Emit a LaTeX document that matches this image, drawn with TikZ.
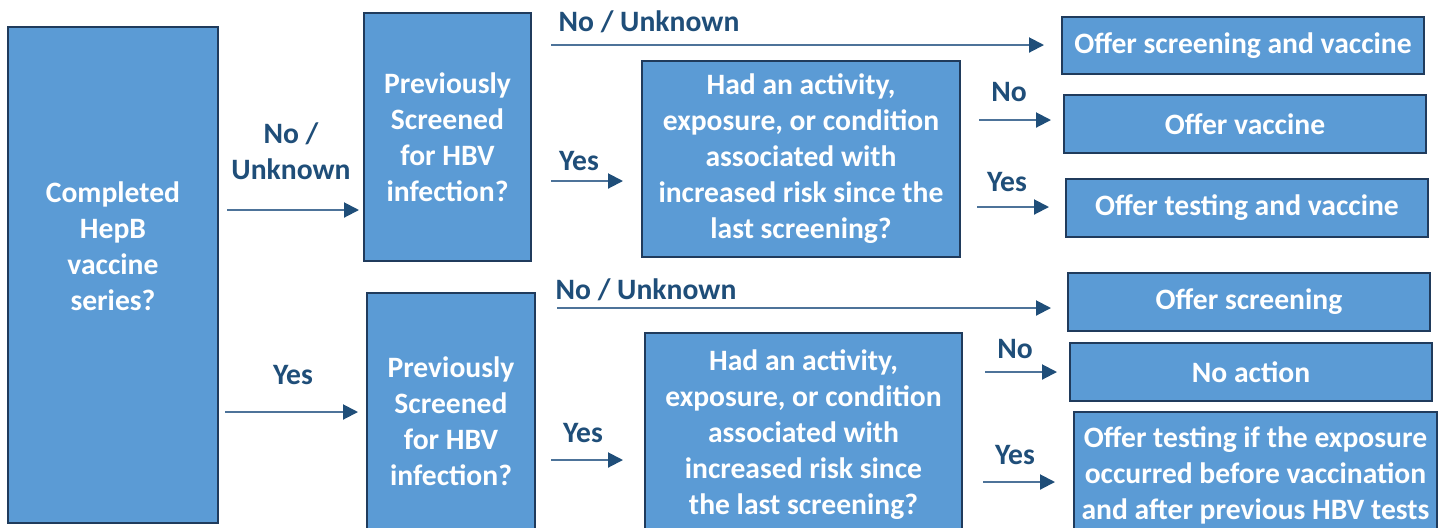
\documentclass[tikz,border=0pt]{standalone}
\usepackage{fontspec}
\setmainfont{Carlito}
\usetikzlibrary{arrows.meta}
\definecolor{boxfill}{HTML}{5B9BD5}
\definecolor{boxline}{HTML}{203B5C}
\definecolor{lbl}{HTML}{1F4E79}
\definecolor{arrline}{HTML}{4D7399}
\definecolor{arrhead}{HTML}{1F4E79}
\begin{document}
\begin{tikzpicture}[x=0.5pt,y=-0.5pt,
  box/.style={draw=boxline, line width=1.1pt, fill=boxfill, rectangle, inner sep=0pt,
    text=white, font=\fontsize{14.8}{18}\selectfont\bfseries, align=center},
  txt/.style={inner sep=0pt, text=white, font=\fontsize{14.8}{18}\selectfont\bfseries, align=center},
  lab/.style={inner sep=0pt, text=lbl, font=\fontsize{14.8}{18}\selectfont\bfseries, align=center},
  arr/.style={draw=arrline, line width=1pt, -{Triangle[length=7.5pt,width=7.5pt,color=arrhead,fill=arrhead]}}]
\clip (0,0) rectangle (1445,527);
\fill[white] (0,0) rectangle (1445,527);

% boxes
\node[box, minimum width=105pt, minimum height=248pt] (a) at (113,275) {};
\node[txt] (atext) at (113,246) {Completed\\HepB\\vaccine\\series?};
\node[box, minimum width=83.5pt, minimum height=124pt] (b1) at (447.5,137) {Previously\\Screened\\for HBV\\infection?};
\node[box, minimum width=84pt, minimum height=128pt] (b2) at (451,421) {Previously\\Screened\\for HBV\\infection?};
\node[box, minimum width=159pt, minimum height=98pt] (c1) at (801,159) {Had an activity,\\exposure, or condition\\associated with\\increased risk since the\\last screening?};
\node[box, minimum width=158.5pt, minimum height=102pt] (c2) at (803.5,435) {Had an activity,\\exposure, or condition\\associated with\\increased risk since\\the last screening?};
\node[box, minimum width=181pt, minimum height=28.5pt] (d1) at (1243,45.5) {Offer screening and vaccine};
\node[box, minimum width=181pt, minimum height=29pt] (d2) at (1245,124) {Offer vaccine};
\node[box, minimum width=181pt, minimum height=29pt] (d3) at (1247,208) {Offer testing and vaccine};
\node[box, minimum width=181pt, minimum height=29pt] (d4) at (1249,302) {Offer screening};
\node[box, minimum width=181pt, minimum height=29pt] (d5) at (1251,372) {No action};
\node[box, minimum width=181.5pt, minimum height=63pt] (d6) at (1255.5,475) {Offer testing if the exposure\\occurred before vaccination\\and after previous HBV tests};

% arrow end points
\coordinate (p1s) at (227,210);  \coordinate (p1e) at (359,210);
\coordinate (p2s) at (225,412);  \coordinate (p2e) at (358,412);
\coordinate (p3s) at (551,181);  \coordinate (p3e) at (623,181);
\coordinate (p4s) at (551,460);  \coordinate (p4e) at (623,460);
\coordinate (p5s) at (551,45);   \coordinate (p5e) at (1044,45);
\coordinate (p6s) at (557,308);  \coordinate (p6e) at (1051,308);
\coordinate (p7s) at (979,120);  \coordinate (p7e) at (1051,120);
\coordinate (p8s) at (977,207);  \coordinate (p8e) at (1049,207);
\coordinate (p9s) at (985,372);  \coordinate (p9e) at (1057,372);
\coordinate (p10s) at (983,482); \coordinate (p10e) at (1055,482);

\draw[arr] (p1s) -- (p1e);
\draw[arr] (p2s) -- (p2e);
\draw[arr] (p3s) -- (p3e);
\draw[arr] (p4s) -- (p4e);
\draw[arr] (p5s) -- (p5e);
\draw[arr] (p6s) -- (p6e);
\draw[arr] (p7s) -- (p7e);
\draw[arr] (p8s) -- (p8e);
\draw[arr] (p9s) -- (p9e);
\draw[arr] (p10s) -- (p10e);

% labels
\node[lab] (l1) at (291,151) {No /\\Unknown};
\node[lab] (l2) at (293,375) {Yes};
\node[lab] (l3) at (649,22) {No / Unknown};
\node[lab] (l4) at (579,161) {Yes};
\node[lab] (l5) at (1009,92) {No};
\node[lab] (l6) at (1007,182) {Yes};
\node[lab] (l7) at (646,290) {No / Unknown};
\node[lab] (l8) at (1015,349) {No};
\node[lab] (l9) at (583,433) {Yes};
\node[lab] (l10) at (1015,455) {Yes};
\end{tikzpicture}
\end{document}
